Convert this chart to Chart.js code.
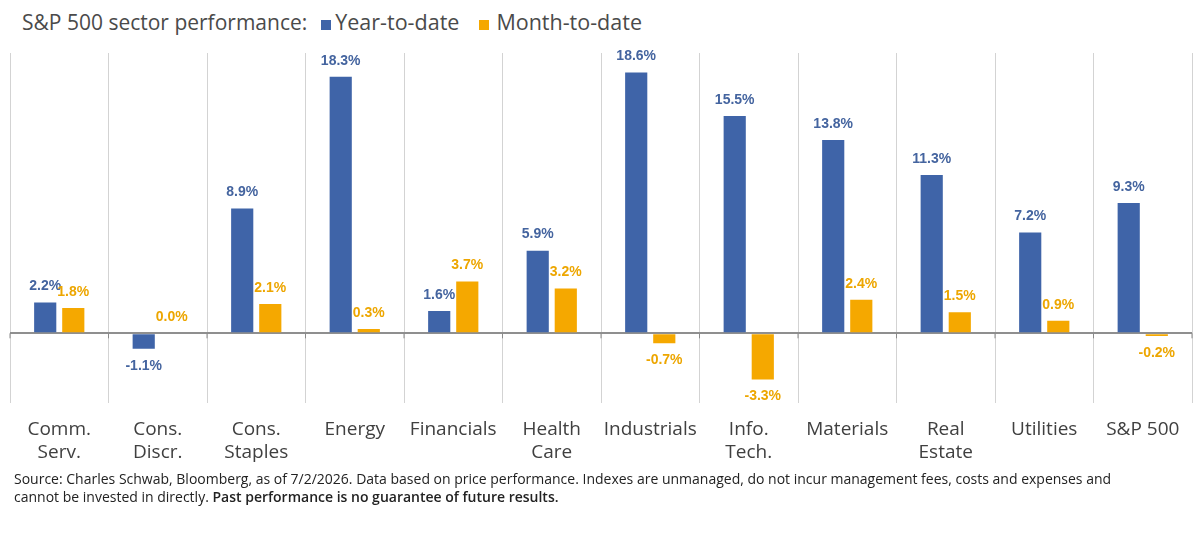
<!DOCTYPE html>
<html>
<head>
<meta charset="utf-8">
<script src="https://cdn.jsdelivr.net/npm/chart.js@4.4.1/dist/chart.umd.min.js"></script>
<style>
  html, body { margin: 0; padding: 0; background: #fff; }
  body { width: 1200px; height: 534px; position: relative; overflow: hidden; }
  #title { position: absolute; left: 22px; top: 8px; font-family: "Open Sans", sans-serif; font-size: 21px; line-height: 28px; color: #4a4a4a; white-space: nowrap; }
  #title .lg { font-size: 21.5px; }
  #title .sw { display: inline-block; width: 10px; height: 10px; margin: 0 4px 0 14px; }
  #title .sw2 { margin-left: 20px; margin-right: 7px; }
  #wrap { position: absolute; left: 0; top: 40px; width: 1200px; height: 439px; }
  #source { position: absolute; left: 14px; top: 470px; width: 1125px; font-family: "Open Sans", sans-serif; font-size: 14px; line-height: 18px; color: #222; }
  #source b { font-weight: 600; }
</style>
</head>
<body>
<div id="title">S&amp;P 500 sector performance:<span class="sw" style="background:#3f64a8"></span><span class="lg">Year-to-date</span><span class="sw sw2" style="background:#f5a800"></span><span class="lg">Month-to-date</span></div>
<div id="wrap"><canvas id="chart"></canvas></div>
<div id="source">Source: Charles Schwab, Bloomberg, as of 7/2/2026. Data based on price performance. Indexes are unmanaged, do not incur management fees, costs and expenses and cannot be invested in directly. <b>Past performance is no guarantee of future results.</b></div>
<script>
const sectors = [['Comm.', 'Serv.'], ['Cons.', 'Discr.'], ['Cons.', 'Staples'], 'Energy', 'Financials',
  ['Health', 'Care'], 'Industrials', ['Info.', 'Tech.'], 'Materials', ['Real', 'Estate'], 'Utilities', 'S&P 500'];
const yearToDate = [2.2, -1.1, 8.9, 18.3, 1.6, 5.9, 18.6, 15.5, 13.8, 11.3, 7.2, 9.3];
const monthToDate = [1.8, 0.0, 2.1, 0.3, 3.7, 3.2, -0.7, -3.3, 2.4, 1.5, 0.9, -0.2];

const blue = '#3f64a8';
const orange = '#f5a800';

// value labels above / below each bar
const valueLabels = {
  id: 'valueLabels',
  afterDatasetsDraw(chart) {
    const ctx = chart.ctx;
    ctx.save();
    ctx.font = 'bold 14px "Liberation Sans", Arial, sans-serif';
    ctx.textAlign = 'center';
    ctx.textBaseline = 'middle';
    chart.data.datasets.forEach((ds, i) => {
      const meta = chart.getDatasetMeta(i);
      ctx.fillStyle = ds.labelColor;
      meta.data.forEach((bar, j) => {
        const v = ds.data[j];
        const y = v >= 0 ? bar.y - 16 : bar.y + 17;
        ctx.fillText(v.toFixed(1) + '%', bar.x, y);
      });
    });
    ctx.restore();
  }
};

// small tick marks on the zero line at category boundaries
const zeroTicks = {
  id: 'zeroTicks',
  beforeDatasetsDraw(chart) {
    const { ctx, scales: { x, y } } = chart;
    const y0 = y.getPixelForValue(0);
    ctx.save();
    ctx.strokeStyle = '#8a8a8a';
    ctx.lineWidth = 1;
    for (let i = 0; i <= sectors.length; i++) {
      const px = x.getPixelForValue(i - 0.5);
      ctx.beginPath();
      ctx.moveTo(px, y0);
      ctx.lineTo(px, y0 + 5);
      ctx.stroke();
    }
    ctx.restore();
  }
};

new Chart(document.getElementById('chart'), {
  type: 'bar',
  data: {
    labels: sectors,
    datasets: [
      { label: 'Year-to-date', data: yearToDate, backgroundColor: blue, labelColor: '#44649f' },
      { label: 'Month-to-date', data: monthToDate, backgroundColor: orange, labelColor: '#eda600' }
    ]
  },
  options: {
    responsive: true,
    maintainAspectRatio: false,
    animation: false,
    datasets: { bar: { categoryPercentage: 0.57, barPercentage: 0.79 } },
    layout: { padding: { top: 13, left: 10, right: 8, bottom: 0 } },
    plugins: { legend: { display: false }, tooltip: { enabled: false } },
    scales: {
      x: {
        offset: true,
        grid: { offset: true, color: '#d3d3d3', lineWidth: 1, drawTicks: false },
        border: { display: false },
        ticks: { color: '#404040', font: { family: 'Open Sans', size: 19, lineHeight: 1.2 }, padding: 15, maxRotation: 0, autoSkip: false }
      },
      y: {
        min: -5,
        max: 20,
        ticks: { display: false, stepSize: 5 },
        border: { display: false },
        grid: {
          drawTicks: false,
          lineWidth: 2,
          color: c => c.tick.value === 0 ? '#8f8f8f' : 'rgba(0,0,0,0)'
        },
        afterFit(scale) { scale.width = 0; }
      }
    }
  },
  plugins: [valueLabels, zeroTicks]
});
</script>
</body>
</html>
